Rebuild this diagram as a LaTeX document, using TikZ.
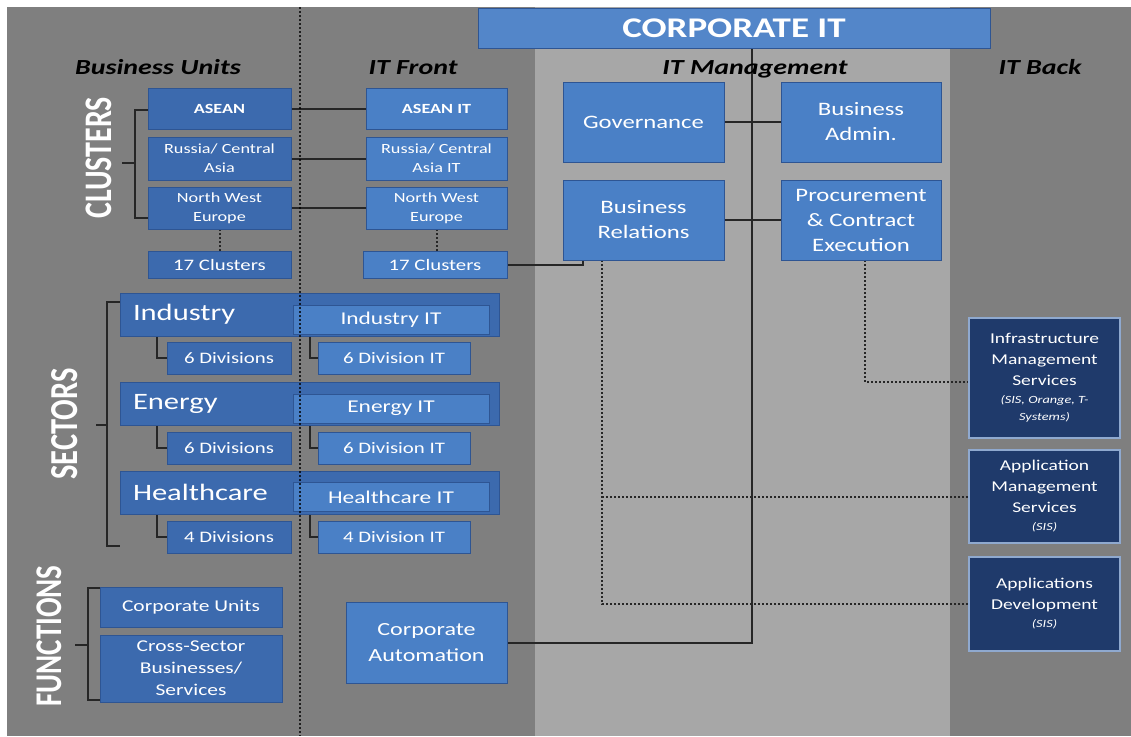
\documentclass[tikz,border=0pt]{standalone}
\usepackage{fontspec}
\usepackage{graphicx}
\setmainfont{Carlito}[FakeStretch=1.3]
\newfontfamily\upfont{Carlito}
\usetikzlibrary{calc}
\definecolor{bgdark}{HTML}{7F7F7F}
\definecolor{bglight}{HTML}{A7A7A7}
\definecolor{bublue}{HTML}{3C6AAE}
\definecolor{itblue}{HTML}{4A80C6}
\definecolor{edgeblue}{HTML}{2E5593}
\definecolor{navy}{HTML}{1F3A6B}
\definecolor{navyedge}{HTML}{8FA9CF}
\pgfdeclarelayer{back}
\pgfdeclarelayer{wires}
\pgfsetlayers{back,wires,main}
% small italic note line inside the service boxes
\newcommand\svcnote[1]{{\itshape\fontsize{11}{13}\selectfont #1}}
% upright section label, widened across its glyph height
\newcommand\sidetext[1]{\scalebox{1}[1.3]{#1}}
\tikzset{
  box/.style={rectangle, inner sep=2pt, text=white, align=center,
    draw=edgeblue, line width=0.8pt},
  bubox/.style={box, fill=bublue},
  itbox/.style={box, fill=itblue},
  backbox/.style={box, fill=navy, draw=navyedge, line width=1.2pt,
    minimum width=151, font=\fontsize{15}{21}\selectfont},
  wire/.style={line width=2pt, black!85},
  dotwire/.style={line width=2pt, black!85, dash pattern=on 2pt off 2pt},
  head/.style={anchor=base, font=\bfseries\itshape\fontsize{21.5}{24}\selectfont, text=black},
  side/.style={rotate=90, text=white, font=\upfont\bfseries\fontsize{29}{30}\selectfont},
  clus/.style={minimum width=143, font=\fontsize{14}{19}\selectfont},
  mgmt/.style={itbox, minimum width=161, minimum height=80, font=\fontsize{19}{25}\selectfont},
  sector/.style={bubox, minimum width=379, minimum height=43, text width=353,
    align=left, font=\fontsize{23.5}{26}\selectfont},
  sectorit/.style={itbox, minimum width=196, minimum height=29, font=\fontsize{18}{20}\selectfont},
  divbu/.style={bubox, minimum width=124, minimum height=32, font=\fontsize{16}{18}\selectfont},
  divit/.style={itbox, minimum width=152, minimum height=32, font=\fontsize{16}{18}\selectfont}
}
\begin{document}
\begin{tikzpicture}[x=1pt,y=-1pt]
\useasboundingbox (0,0) rectangle (1131,736);
\begin{pgfonlayer}{back}
  \fill[white] (0,0) rectangle (1131,736);
  \fill[bgdark] (7,7) rectangle (1131,736);
  \fill[bglight] (535,7) rectangle (950,736);
\end{pgfonlayer}

% Corporate IT banner
\node[itbox, fill=itblue!95!white, minimum width=512, minimum height=40,
  font=\bfseries\fontsize{28.5}{30}\selectfont] (corp) at (734,28) {CORPORATE IT};

% Column headers
\node[head] (hbu) at (158,74) {Business Units};
\node[head] (hfront) at (413,74) {IT Front};
\node[head] (hmgmt) at (755,74) {IT Management};
\node[head] (hback) at (1040,74) {IT Back};

% Clusters: business units and IT front
\node[bubox, clus, minimum height=41, font=\bfseries\fontsize{14}{19}\selectfont] (asean) at (219.5,108.5) {ASEAN};
\node[bubox, clus, minimum height=43] (russia) at (219.5,158.5) {Russia/ Central\\Asia};
\node[bubox, clus, minimum height=42] (nwe) at (219.5,208) {North West\\Europe};
\node[bubox, clus, minimum height=27, font=\fontsize{16}{18}\selectfont] (cl17) at (219.5,264.5) {17 Clusters};

\node[itbox, clus, minimum width=141, minimum height=41, font=\bfseries\fontsize{14}{19}\selectfont] (aseanit) at (436.5,108.5) {ASEAN IT};
\node[itbox, clus, minimum width=141, minimum height=43] (russiait) at (436.5,158.5) {Russia/ Central\\Asia IT};
\node[itbox, clus, minimum width=141, minimum height=42] (nweit) at (436.5,208) {North West\\Europe};
\node[itbox, clus, minimum width=144, minimum height=27, font=\fontsize{16}{18}\selectfont] (cl17it) at (435,264.5) {17 Clusters};

% Side labels
\node[side, font=\upfont\bfseries\fontsize{30}{30}\selectfont] (lclus) at (99,158) {\sidetext{CLUSTERS}};
\node[side, font=\upfont\bfseries\fontsize{30.5}{30}\selectfont] (lsect) at (65,424) {\sidetext{SECTORS}};
\node[side, font=\upfont\bfseries\fontsize{29}{30}\selectfont] (lfunc) at (49,636) {\sidetext{FUNCTIONS}};

% Sectors
\node[sector] (ind) at (309.5,314.5) {Industry};
\node[sectorit] (indit) at (391,319.5) {Industry IT};
\node[divbu] (inddiv) at (229,358) {6 Divisions};
\node[divit] (inddivit) at (394,358) {6 Division IT};

\node[sector] (ene) at (309.5,404) {Energy};
\node[sectorit] (eneit) at (391,408.5) {Energy IT};
\node[divbu] (enediv) at (229,448) {6 Divisions};
\node[divit] (enedivit) at (394,448) {6 Division IT};

\node[sector] (hea) at (309.5,492.5) {Healthcare};
\node[sectorit] (heait) at (391,497) {Healthcare IT};
\node[divbu] (headiv) at (229,537) {4 Divisions};
\node[divit] (headivit) at (394,537) {4 Division IT};

% Functions
\node[bubox, minimum width=182, minimum height=40, font=\fontsize{16.5}{22}\selectfont] (cunits) at (191,607) {Corporate Units};
\node[bubox, minimum width=182, minimum height=67, font=\fontsize{16.5}{22}\selectfont] (xsector) at (191,668.5) {Cross-Sector\\Businesses/\\Services};
\node[itbox, minimum width=161, minimum height=81, font=\fontsize{18.5}{26}\selectfont] (cauto) at (426.5,642.5) {Corporate\\Automation};

% IT management
\node[mgmt] (gov) at (643.5,122) {Governance};
\node[mgmt, minimum width=160] (adm) at (861,122) {Business\\Admin.};
\node[mgmt] (rel) at (643.5,220) {Business\\Relations};
\node[mgmt, minimum width=160] (proc) at (861,220) {Procurement\\\& Contract\\Execution};

% IT back
\node[backbox, minimum height=120] (infra) at (1044.5,378)
  {Infrastructure\\Management\\Services\\[-3pt]\svcnote{(SIS, Orange, T-}\\[-4pt]\svcnote{Systems)}};
\node[backbox, minimum height=93] (appm) at (1044.5,496.5)
  {Application\\Management\\Services\\[-3pt]\svcnote{(SIS)}};
\node[backbox, minimum height=94] (appd) at (1044.5,604)
  {Applications\\Development\\[-3pt]\svcnote{(SIS)}};

% Anchor points for connectors
\coordinate (spine) at (752,48);
\coordinate (relfoot) at (583,260);
\coordinate (relleg) at (602,260);
\coordinate (procleg) at (865,260);
\coordinate (xbu) at (157,0);
\coordinate (xit) at (310,0);

\begin{pgfonlayer}{wires}
  % cluster links
  \draw[wire] (asean.east) -- (aseanit.west);
  \draw[wire] (russia.east) -- (russiait.west);
  \draw[wire] (nwe.east) -- (nweit.west);
  \draw[dotwire] (nwe.south) -- (cl17.north);
  \draw[dotwire] (nweit.south) -- (nweit.south |- cl17it.north);
  \draw[wire] (cl17it.east) -| (relfoot);
  % corporate spine
  \draw[wire] (cauto.east) -| (spine);
  \draw[wire] (gov.east) -- (adm.west);
  \draw[wire] (rel.east) -- (proc.west);
  % IT back service links
  \draw[dotwire] (relleg) |- (appd.west);
  \draw[dotwire] (relleg |- appm.west) -- (appm.west);
  \draw[dotwire] (procleg) |- ([yshift=-4]infra.west);
  % sector divisions
  \draw[wire] (inddiv.west) -| (ind.south -| xbu);
  \draw[wire] (enediv.west) -| (ene.south -| xbu);
  \draw[wire] (headiv.west) -| (hea.south -| xbu);
  \draw[wire] (inddivit.west) -| (ind.south -| xit);
  \draw[wire] (enedivit.west) -| (ene.south -| xit);
  \draw[wire] (headivit.west) -| (hea.south -| xit);
  % brackets
  \draw[wire] (148,110) -- (135,110) -- (135,218) -- (148,218);
  \draw[wire] (135,163) -- (122,163);
  \draw[wire] (120,302) -- (107,302) -- (107,546) -- (120,546);
  \draw[wire] (107,425) -- (96,425);
  \draw[wire] (100,588) -- (88,588) -- (88,700) -- (100,700);
  \draw[wire] (88,645) -- (75,645);
\end{pgfonlayer}

% dotted divider between business units and IT front
\draw[line width=2pt, black, opacity=0.75, dash pattern=on 2pt off 2pt] (300,7) -- (300,736);
\end{tikzpicture}
\end{document}
